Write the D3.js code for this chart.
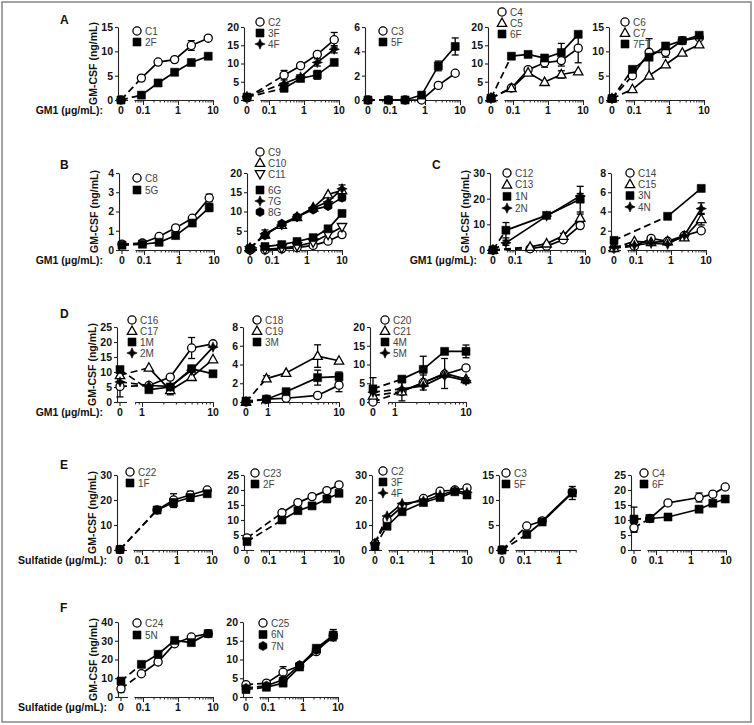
<!DOCTYPE html>
<html><head><meta charset="utf-8">
<script src="https://cdn.jsdelivr.net/npm/d3@7"></script>
<style>
body{margin:0;background:#fff;}
svg{display:block;font-family:"Liberation Sans",Arial,sans-serif;}
</style></head><body>
<svg id="c" width="754" height="725"></svg>
<script>
// ================= DATA =================
const concA  = [0.09, 0.27, 0.8, 2.4, 7.3];
const concA2 = [0.27, 0.8, 2.4, 7.3];
const concB2 = [0.063, 0.19, 0.52, 1.5, 4.0, 10];
const concN1 = [0.055, 0.8, 7.3];
const concN3 = [0.8, 7.3];
const concD  = [1.25, 2.5, 5, 10];
const concD2 = [0.95, 1.8, 5, 10];
const concE2 = [0.235, 0.67, 1.7, 4.5, 10];
const concE3 = [0.052, 0.14, 0.57, 1.7, 4.5, 10];
const concE4 = [0.12, 0.33, 2.4];
const concE5 = [0.067, 0.22, 1.7, 4.2, 9.5];

const panelA1 = [
  {name:"C1", sym:"circle", zero:0, conc:concA, vals:[4.5,7.8,8.3,11.2,12.7], err:[0,0,0,1,0]},
  {name:"2F", sym:"square", zero:0, conc:concA, vals:[1.0,3.5,5.7,7.7,9.0]}
];
const panelA2 = [
  {name:"C2", sym:"circle", zero:0.6, conc:concA2, vals:[6.8,9.4,12.5,16.5], err:[1.3,0,0,2]},
  {name:"3F", sym:"square", zero:0.8, conc:concA2, vals:[3.2,5.9,6.9,10.3], err:[0,0,1.2,0]},
  {name:"4F", sym:"star", zero:1.0, conc:concA2, vals:[4.5,6.3,10.3,13.9], err:[0,0,1,1]}
];
const panelA3 = [
  {name:"C3", sym:"circle", zero:0, conc:concA, vals:[0,0,0,1.2,2.2]},
  {name:"5F", sym:"square", zero:0, conc:concA, vals:[0,0,0.4,2.8,4.4], err:[0,0,0,0.4,0.7]}
];
const panelA4 = [
  {name:"C4", sym:"circle", zero:0.5, conc:concA, vals:[3.3,8.3,10.2,10.8,14.2], err:[0,0,1.2,1.5,4]},
  {name:"C5", sym:"tri", zero:0.5, conc:concA, vals:[3.2,7.5,4.9,7.0,7.8], err:[0,0,0,1,0]},
  {name:"6F", sym:"square", zero:0.5, conc:concA, vals:[12,12.5,11.5,13,18], err:[0,0,0,2.5,0]}
];
const panelA5 = [
  {name:"C6", sym:"circle", zero:0.3, conc:concA, vals:[5.0,9.8,9.8,12.2,12.8], err:[0,0,1,0,0]},
  {name:"C7", sym:"tri", zero:0.3, conc:concA, vals:[2.2,5.0,7.3,9.7,11.4]},
  {name:"7FT", sym:"square", zero:0.3, conc:concA, vals:[6.3,8.8,11.1,12.2,13.3], err:[0,3.8,0,0,0]}
];
const panelB1 = [
  {name:"C8", sym:"circle", zero:0.3, conc:concA, vals:[0.36,0.7,1.15,1.65,2.7], err:[0,0,0,0,0.2]},
  {name:"5G", sym:"square", zero:0.25, conc:concA, vals:[0.3,0.4,0.75,1.4,2.2], err:[0,0,0,0,0.2]}
];
const panelB2 = [
  {name:"C9", sym:"circle", zero:0, conc:concB2, vals:[0,0.3,0.6,1.2,2.3,4.0]},
  {name:"C10", sym:"tri", zero:0.5, conc:concB2, vals:[4.0,6.5,8.5,11,14.4,15.5]},
  {name:"C11", sym:"itri", zero:0, conc:concB2, vals:[0.2,0.5,1.0,2,4,6.0]},
  {name:"6G", sym:"square", zero:0.3, conc:concB2, vals:[0.9,1.4,2.2,3.2,5.5,9.5]},
  {name:"7G", sym:"star", zero:0.5, conc:concB2, vals:[4.2,6.5,8.6,10.9,12.5,15.9], err:[1,0,0,0,0,1]},
  {name:"8G", sym:"hex", zero:0.5, conc:concB2, vals:[3.8,6.8,8.6,10.5,11.4,13.6], err:[0,0,0,0,0,0.8]}
];
const panelC1 = [
  {name:"C12", sym:"circle", zero:0, conc:concA2, vals:[0.5,1.5,4,9.5], err:[0,0,0,1]},
  {name:"C13", sym:"tri", zero:0, conc:concA2, vals:[1.2,2.5,5.5,12.5], err:[0,0,1,1.5]},
  {name:"1N", sym:"square", zero:0, conc:concN1, vals:[7.7,13.5,19.8], err:[3,0,5]},
  {name:"2N", sym:"star", zero:0, conc:concN1, vals:[2.8,13.2,21], err:[1,0,1]}
];
const panelC2 = [
  {name:"C14", sym:"circle", zero:0.2, conc:concA, vals:[0.4,1.2,0.9,1.5,2.0]},
  {name:"C15", sym:"tri", zero:0.2, conc:concA, vals:[0.9,0.8,0.9,1.3,3.2], err:[0,0,0,0,0.6]},
  {name:"3N", sym:"square", zero:1.0, conc:concN3, vals:[3.5,6.4]},
  {name:"4N", sym:"star", zero:0.3, conc:concA, vals:[0.5,0.7,0.6,1.5,4.3], err:[0,0,0,0,0.6]}
];
const panelD1 = [
  {name:"C16", sym:"circle", zero:5.2, zeroErr:3.5, conc:concD, vals:[5.5,8.3,18,19.4], err:[0,0,3.5,0]},
  {name:"C17", sym:"tri", zero:8.9, conc:concD, vals:[11.4,3.9,8.3,14.2], err:[0,1.5,0,0]},
  {name:"1M", sym:"square", zero:10.8, conc:concD, vals:[4.1,5.0,11.1,9.4]},
  {name:"2M", sym:"star", zero:6.7, conc:concD, vals:[5.5,5.2,10.6,18.3]}
];
const panelD2 = [
  {name:"C18", sym:"circle", zero:0, conc:concD2, vals:[0.3,0.4,0.7,1.8], err:[0,0,0,0.7]},
  {name:"C19", sym:"tri", zero:0, conc:concD2, vals:[2.5,3.1,4.9,4.4], err:[0.3,0,1.2,0]},
  {name:"3M", sym:"square", zero:0.1, conc:concD2, vals:[0.3,1.1,2.6,2.7], err:[0,0,0.8,0.5]}
];
const panelD3 = [
  {name:"C20", sym:"circle", zero:0, conc:concD, vals:[2.8,5.2,7.4,9.1]},
  {name:"C21", sym:"tri", zero:1.7, conc:concD, vals:[2.8,5.2,7.6,6.1], err:[2.5,2,4,0]},
  {name:"4M", sym:"square", zero:3.5, zeroErr:3, conc:concD, vals:[6.1,8.7,13.5,13.5], err:[0,3.5,0,1.7]},
  {name:"5M", sym:"star", zero:2.6, conc:concD, vals:[3.5,4.3,7.0,5.7], err:[0,0,0,0.8]}
];
const panelE1 = [
  {name:"C22", sym:"circle", zero:0.2, conc:concA2, vals:[16,20,22,24], err:[0,2.5,1.5,0]},
  {name:"1F", sym:"square", zero:0.2, conc:concA2, vals:[16,19,21,22.5], err:[0,2,1.5,1]}
];
const panelE2 = [
  {name:"C23", sym:"circle", zero:4, zeroErr:1, conc:concE2, vals:[12.4,15.8,17.8,19.8,21.7]},
  {name:"2F", sym:"square", zero:2.8, conc:concE2, vals:[10,13.1,14.7,17,18.9]}
];
const panelE3 = [
  {name:"C2", sym:"circle", zero:2.5, conc:concE3, vals:[12,17.4,20.6,23.5,24,24.8]},
  {name:"3F", sym:"square", zero:1.5, conc:concE3, vals:[9.5,15.3,19,21,23.3,22]},
  {name:"4F", sym:"star", zero:2.8, conc:concE3, vals:[13.6,18.6,19.6,22,23.7,23]}
];
const panelE4 = [
  {name:"C3", sym:"circle", zero:0, conc:concE4, vals:[4.8,5.8,11.6]},
  {name:"5F", sym:"square", zero:0, conc:concE4, vals:[3.1,5.6,11.4], err:[0,0,1.3]}
];
const panelE5 = [
  {name:"C4", sym:"circle", zero:7.4, zeroErr:1.5, conc:concE5, vals:[10.5,15.7,17.5,18.6,21], err:[0,0,1.5,0,0]},
  {name:"6F", sym:"square", zero:10.3, zeroErr:4, conc:concE5, vals:[10.5,11,13.6,15.6,17], err:[0,0,1,0,1]}
];
const panelF1 = [
  {name:"C24", sym:"circle", zero:4.4, zeroErr:2, conc:concA, vals:[12.4,18.7,28.4,32,33.8]},
  {name:"5N", sym:"square", zero:8.5, conc:concA, vals:[17.4,22.8,30.2,29,33.8]}
];
const panelF2 = [
  {name:"C25", sym:"circle", zero:3.3, conc:concA, vals:[3.7,6.6,8.3,12.1,16.5], err:[0,1.5,0,0,1.5]},
  {name:"6N", sym:"square", zero:2.0, conc:concA, vals:[2.6,3.7,8.0,13,16.5]},
  {name:"7N", sym:"hex", zero:2.4, conc:concA, vals:[3.0,4.6,8.5,12.5,16]}
];

const ticks15 = [0,5,10,15], ticks20 = [0,5,10,15,20], ticks25 = [0,5,10,15,20,25];
const ticks30 = [0,10,20,30], ticks40 = [0,10,20,30,40];
const ticks4 = [0,1,2,3,4], ticks6 = [0,2,4,6], ticks8 = [0,2,4,6,8];
const xTitleGM = "GM1 (\u00b5g/mL):", xTitleSulf = "Sulfatide (\u00b5g/mL):";
const yTitle = "GM-CSF (ng/mL)";

// ================= LAYOUT =================
const rows = {
  A:{y0:100, y1:27}, B:{y0:250, y1:173}, D:{y0:402, y1:327},
  E:{y0:550, y1:475}, F:{y0:697, y1:622}
};
const xLog = {ref:0.1, off:22, ppd:35, lo:0.055, hi:10, majors:[0.1,1,10]};
const xLogE4 = {ref:0.1, off:22, ppd:35, lo:0.055, hi:3, majors:[0.1,1]};
const xLin = {ref:1, off:22, ppd:71, lo:0.8, hi:10, majors:[1,10]};

const panels = [
  {row:"A", Z:121, yMax:15, ticks:ticks15, x:xLog, s:panelA1, lx:16, ly:31, ls:11, yT:true},
  {row:"A", Z:247, yMax:20, ticks:ticks20, x:xLog, s:panelA2, lx:13, ly:22, ls:11},
  {row:"A", Z:368, yMax:6, ticks:ticks6, x:xLog, s:panelA3, lx:15, ly:31, ls:11},
  {row:"A", Z:491, yMax:20, ticks:ticks20, x:xLog, s:panelA4, lx:11, ly:12, ls:11},
  {row:"A", Z:612, yMax:15, ticks:ticks15, x:xLog, s:panelA5, lx:13, ly:22, ls:11},
  {row:"B", Z:122, yMax:4, ticks:ticks4, x:xLog, s:panelB1, lx:15, ly:178, ls:12, yT:true},
  {row:"B", Z:250, yMax:20, ticks:ticks20, x:xLog, s:panelB2, lx:10, ly:152, ls:11, gapAfter:2, gap:5},
  {row:"B", Z:493, yMax:30, ticks:ticks30, x:xLog, s:panelC1, lx:14, ly:173, ls:11.7, yT:true},
  {row:"B", Z:614, yMax:8, ticks:ticks8, x:xLog, s:panelC2, lx:16, ly:173, ls:11.3},
  {row:"D", Z:120, yMax:25, ticks:ticks25, x:xLin, s:panelD1, lx:12, ly:320, ls:11, yT:true},
  {row:"D", Z:246, yMax:8, ticks:ticks8, x:xLin, s:panelD2, lx:11, ly:320, ls:11},
  {row:"D", Z:373, yMax:20, ticks:ticks20, x:xLin, s:panelD3, lx:12, ly:320, ls:11},
  {row:"E", Z:120, yMax:30, ticks:ticks30, x:xLog, s:panelE1, lx:10, ly:472, ls:11, yT:true},
  {row:"E", Z:247, yMax:25, ticks:ticks25, x:xLog, s:panelE2, lx:8, ly:473, ls:11},
  {row:"E", Z:375, yMax:30, ticks:ticks30, x:xLog, s:panelE3, lx:8, ly:471, ls:11},
  {row:"E", Z:502, yMax:15, ticks:ticks15, x:xLogE4, s:panelE4, lx:4, ly:473, ls:11},
  {row:"E", Z:634, yMax:25, ticks:ticks25, x:xLog, s:panelE5, lx:10, ly:473, ls:11},
  {row:"F", Z:121, yMax:40, ticks:ticks40, x:xLog, s:panelF1, lx:16, ly:623, ls:12, yT:true},
  {row:"F", Z:246, yMax:20, ticks:ticks20, x:xLog, s:panelF2, lx:17, ly:623, ls:11.5}
];
const rowTitles = [
  {row:"A", x:103, t:xTitleGM}, {row:"B", x:103, t:xTitleGM}, {row:"B", x:477, t:xTitleGM},
  {row:"D", x:103, t:xTitleGM}, {row:"E", x:107, t:xTitleSulf}, {row:"F", x:107, t:xTitleSulf}
];
const letters = [
  {t:"A", x:60, y:24}, {t:"B", x:60, y:169}, {t:"C", x:432, y:169},
  {t:"D", x:60, y:318}, {t:"E", x:60, y:469}, {t:"F", x:60, y:612}
];

// ================= DRAW =================
const FONT = "'Liberation Sans', Arial, sans-serif";
const svg = d3.select("#c");
svg.append("rect").attr("x",2).attr("y",2).attr("width",749).attr("height",720)
  .attr("fill","none").attr("stroke","#8c8c8c").attr("stroke-width",1.6);

function symPath(s){
  switch(s){
    case "circle": return d3.symbol(d3.symbolCircle, 52)();
    case "square": return "M-4,-4h8v8h-8z";
    case "tri": return "M0,-5L4.7,3.4L-4.7,3.4Z";
    case "itri": return "M0,5L4.7,-3.4L-4.7,-3.4Z";
    case "star": return "M0,-5.2L1.6,-1.6L5.2,0L1.6,1.6L0,5.2L-1.6,1.6L-5.2,0L-1.6,-1.6Z";
    case "hex": { const p=d3.range(6).map(i=>{const a=Math.PI/3*i+Math.PI/6;return [4.6*Math.cos(a),4.6*Math.sin(a)];}); return "M"+p.join("L")+"Z"; }
  }
}
const openSym = new Set(["circle","tri","itri"]);
function marker(g, s, x, y){
  g.append("path").attr("d", symPath(s)).attr("transform",`translate(${x},${y})`)
    .attr("fill", openSym.has(s) ? "#fff" : "#000").attr("stroke","#000")
    .attr("stroke-width", openSym.has(s) ? 1.3 : 0.6);
}
function errBar(g, x, y, e, yS){
  if(!e) return;
  const yt = yS.invert(y) + e, yb = Math.max(0, yS.invert(y) - e);
  g.append("line").attr("x1",x).attr("x2",x).attr("y1",yS(yt)).attr("y2",yS(yb))
    .attr("stroke","#000").attr("stroke-width",1.3);
  [yt, yb].forEach(v=>g.append("line").attr("x1",x-3.5).attr("x2",x+3.5)
    .attr("y1",yS(v)).attr("y2",yS(v)).attr("stroke","#000").attr("stroke-width",1.3));
}
function fmt(v){ return v===0.1 ? "0.1" : String(v); }

function drawPanel(p){
  const r = rows[p.row];
  const g = svg.append("g");
  const y = d3.scaleLinear().domain([0,p.yMax]).range([r.y0, r.y1]);
  const xc = p.x;
  const px = c => p.Z + xc.off + xc.ppd*Math.log10(c/xc.ref);
  const x = d3.scaleLog().domain([xc.lo, xc.hi]).range([px(xc.lo), px(xc.hi)]);
  const X = p.Z - 3;

  // y axis
  const ya = g.append("g").attr("transform",`translate(${X},0)`)
    .call(d3.axisLeft(y).tickValues(p.ticks).tickFormat(d=>String(d)).tickSize(3).tickSizeOuter(0).tickPadding(2));
  ya.attr("font-family",FONT).attr("font-size",10.5);
  ya.selectAll("text").attr("font-weight","bold").attr("fill","#111");
  ya.selectAll("line,path").attr("stroke","#222").attr("stroke-width",1.1);

  // zero stub
  g.append("line").attr("x1",X).attr("x2",p.Z+7).attr("y1",r.y0+0.5).attr("y2",r.y0+0.5)
    .attr("stroke","#222").attr("stroke-width",1.1);
  g.append("line").attr("x1",p.Z).attr("x2",p.Z).attr("y1",r.y0).attr("y2",r.y0+4)
    .attr("stroke","#222").attr("stroke-width",1.1);

  // log x axis
  const tv = [];
  [0.01,0.1,1].forEach(d=>{ for(let k=1;k<=9;k++){ const v=+(k*d).toPrecision(3); if(v>=xc.lo-1e-9 && v<xc.hi-1e-9) tv.push(v);} });
  tv.push(xc.hi);
  const xa = g.append("g").attr("transform",`translate(0,${r.y0})`)
    .call(d3.axisBottom(x).tickValues(tv).tickSize(2.5).tickSizeOuter(0).tickFormat(""));
  xa.selectAll("line,path").attr("stroke","#222").attr("stroke-width",1);
  xa.selectAll(".tick line").filter(v=>xc.majors.includes(v)).attr("y2",5);

  // x labels
  const lab = g.append("g").attr("font-family",FONT).attr("font-size",10.5).attr("font-weight","bold")
    .attr("text-anchor","middle").attr("fill","#111");
  lab.append("text").attr("x",p.Z).attr("y",r.y0+14).text("0");
  xc.majors.forEach(v=>lab.append("text").attr("x",x(v)).attr("y",r.y0+14).text(fmt(v)));

  // y title
  if(p.yT){
    const my = (r.y0+r.y1)/2;
    g.append("text").attr("transform",`translate(${p.Z-24},${my}) rotate(-90)`)
      .attr("text-anchor","middle").attr("font-family",FONT).attr("font-size",10.5)
      .attr("font-weight","bold").attr("fill","#111").text(yTitle);
  }

  // lines
  const line = d3.line().x(d=>d[0]).y(d=>d[1]);
  p.s.forEach(s=>{
    const pts = s.conc.map((c,i)=>[x(c), y(s.vals[i])]);
    g.append("line").attr("x1",p.Z).attr("y1",y(s.zero)).attr("x2",pts[0][0]).attr("y2",pts[0][1])
      .attr("stroke","#000").attr("stroke-width",1.7).attr("stroke-dasharray","7,4");
    g.append("path").attr("d",line(pts)).attr("fill","none").attr("stroke","#000").attr("stroke-width",1.7);
  });
  // error bars
  p.s.forEach(s=>{
    errBar(g, p.Z, y(s.zero), s.zeroErr||0, y);
    s.conc.forEach((c,i)=>errBar(g, x(c), y(s.vals[i]), (s.err||[])[i]||0, y));
  });
  // markers
  p.s.forEach(s=>{
    marker(g, s.sym, p.Z, y(s.zero));
    s.conc.forEach((c,i)=>marker(g, s.sym, x(c), y(s.vals[i])));
  });
  // legend
  const lg = g.append("g").attr("font-family",FONT).attr("font-size",10).attr("fill","#444");
  p.s.forEach((s,i)=>{
    const yy = p.ly + i*p.ls + (p.gapAfter!==undefined && i>p.gapAfter ? p.gap : 0);
    marker(lg, s.sym, p.Z+p.lx, yy);
    lg.append("text").attr("x",p.Z+p.lx+8).attr("y",yy+3.6).text(s.name);
  });
}
panels.forEach(drawPanel);

rowTitles.forEach(t=>{
  svg.append("text").attr("x",t.x).attr("y",rows[t.row].y0+14).attr("text-anchor","end")
    .attr("font-family",FONT).attr("font-size",10.5).attr("font-weight","bold").attr("fill","#111").text(t.t);
});
letters.forEach(l=>{
  svg.append("text").attr("x",l.x).attr("y",l.y).attr("font-family",FONT).attr("font-size",12)
    .attr("font-weight","bold").attr("fill","#111").text(l.t);
});
</script>
</body></html>
